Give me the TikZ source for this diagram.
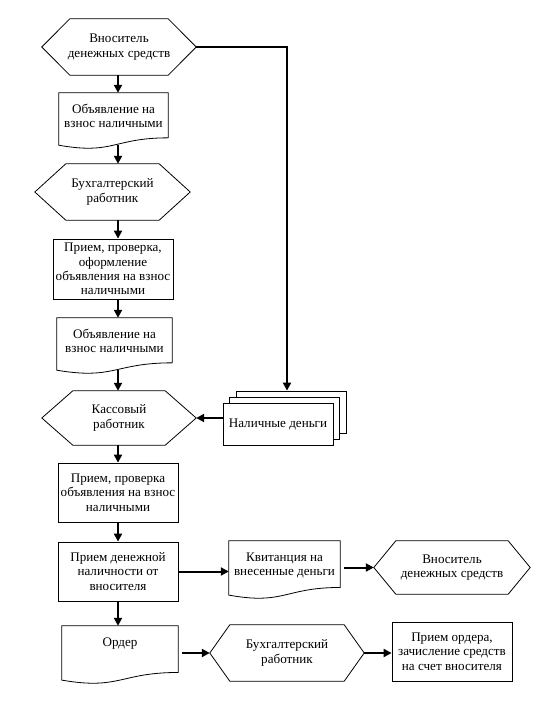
\documentclass[tikz,border=0pt]{standalone}
\usepackage{fontspec}
\setmainfont{Liberation Serif}
\usetikzlibrary{arrows.meta,calc}
\tikzset{
  txt/.style={inner sep=0pt,align=center,font=\fontsize{13.1}{14.3}\selectfont},
  boxnode/.style={txt,draw,line width=0.8pt},
  shapeline/.style={line width=0.8pt},
  arr/.style={line width=2pt,-{Triangle[length=8pt,width=8pt]}},
  stackbox/.style={draw,fill=white,line width=0.8pt,minimum width=110pt,minimum height=42pt,inner sep=0pt}
}
\newcommand\hexpath[2]{\draw[shapeline] (#1.west) -- ([xshift=#2]#1.north west) -- ([xshift=-#2]#1.north east) -- (#1.east) -- ([xshift=-#2]#1.south east) -- ([xshift=#2]#1.south west) -- cycle;}
\newcommand\docpath[1]{\draw[shapeline] (#1.north west) -- (#1.north east) -- ($(#1.north east)!0.813!(#1.south east)$) .. controls ($(#1.north)!0.813!(#1.south)$) and ($(#1.north)!1.122!(#1.south)$) .. ($(#1.north west)!0.946!(#1.south west)$) -- cycle;}
\newcommand\doctext[3]{\parbox[c][#2pt][t]{#1pt}{\centering\vspace*{10pt}\strut #3}}
\begin{document}
\begin{tikzpicture}[x=1pt,y=-1pt]
\fill[white] (0,0) rectangle (553,706);
\useasboundingbox (0,0) rectangle (553,706);
\coordinate (col) at (118,0);
\coordinate (xr) at (287,0);
% nodes
\node[txt,minimum width=154pt,minimum height=56pt] (v1) at (119,47) {Вноситель\\денежных средств};
\node[txt] (d1) at (113.5,120.5) {\doctext{109}{55}{Объявление на\\взнос наличными}};
\node[txt,minimum width=155pt,minimum height=56pt] (v2) at (112.5,192) {Бухгалтерский\\работник};
\node[boxnode,minimum width=120pt,minimum height=60pt] (b1) at (113,269) {Прием, проверка,\\оформление\\объявления на взнос\\наличными};
\node[txt] (d2) at (114.5,345.5) {\doctext{115}{55}{Объявление на\\взнос наличными}};
\node[txt,minimum width=154pt,minimum height=54pt] (v3) at (119,418) {Кассовый\\работник};
\node[stackbox] (cash3) at (291,412) {};
\node[stackbox] (cash2) at (284.5,418) {};
\node[stackbox,txt] (cash) at (278,424) {Наличные деньги};
\node[boxnode,minimum width=120pt,minimum height=59pt] (b2) at (118,492.5) {Прием, проверка\\объявления на взнос\\наличными};
\node[boxnode,minimum width=120pt,minimum height=59pt] (b3) at (118,571.5) {Прием денежной\\наличности от\\вносителя};
\node[txt] (d3) at (284.5,569.5) {\doctext{111}{57}{Квитанция на\\внесенные деньги}};
\node[txt,minimum width=156pt,minimum height=53pt] (v4) at (452,567.5) {Вноситель\\денежных средств};
\node[txt] (d4) at (120,654.5) {\doctext{116}{57}{Ордер}};
\node[txt,minimum width=154pt,minimum height=56pt] (v5) at (287,653) {Бухгалтерский\\работник};
\node[boxnode,minimum width=120pt,minimum height=59pt] (b4) at (452,651.5) {Прием ордера,\\зачисление средств\\на счет вносителя};
% shapes
\hexpath{v1}{28pt}
\hexpath{v2}{31pt}
\hexpath{v3}{31pt}
\hexpath{v4}{22pt}
\hexpath{v5}{20pt}
\docpath{d1}
\docpath{d2}
\docpath{d3}
\docpath{d4}
\coordinate (d1b) at ($(d1.north)!0.94!(d1.south)$);
\coordinate (d2b) at ($(d2.north)!0.94!(d2.south)$);
% connectors
\draw[arr] (v1.south -| col) -- (d1.north -| col);
\draw[arr] (d1b -| col) -- (v2.north -| col);
\draw[arr] (v2.south -| col) -- (b1.north -| col);
\draw[arr] (b1.south -| col) -- (d2.north -| col);
\draw[arr] (d2b -| col) -- (v3.north -| col);
\draw[arr,line width=2.4pt] (v1.east) -| (cash3.north -| xr);
\draw[arr] (cash.west |- v3.east) -- (v3.east);
\draw[arr] (v3.south -| col) -- (b2.north -| col);
\draw[arr] (b2.south -| col) -- (b3.north -| col);
\draw[arr] (b3.east) -- (b3.east -| d3.west);
\draw[arr] ([xshift=4pt]d3.east |- v4.west) -- (v4.west);
\draw[arr] (b3.south -| col) -- (d4.north -| col);
\draw[arr] ([xshift=4pt]d4.east |- v5.west) -- (v5.west);
\draw[arr] (v5.east) -- (v5.east -| b4.west);
\end{tikzpicture}
\end{document}
